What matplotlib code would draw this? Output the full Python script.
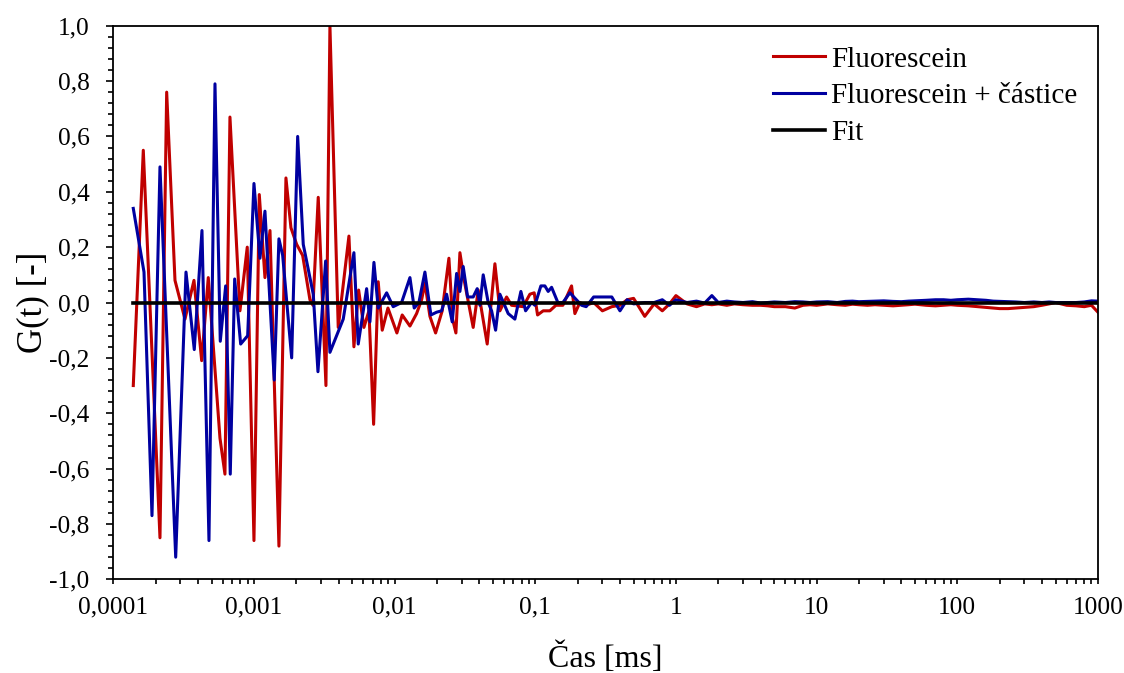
import matplotlib
matplotlib.use("Agg")
import matplotlib.pyplot as plt
from matplotlib.ticker import FixedLocator, MultipleLocator, LogLocator, NullFormatter

plt.rcParams['font.family'] = ['Liberation Serif', 'DejaVu Serif']

# Fluorescein (red) - time in ms, G(t)
red_t = [0.0001387, 0.0001634, 0.0002147, 0.0002396, 0.0002745, 0.0003233, 0.0003746,
         0.0004249, 0.0004734, 0.0005733, 0.000622, 0.000675, 0.000795, 0.000896, 0.001,
         0.001091, 0.001197, 0.0013, 0.001505, 0.001688, 0.001832, 0.002012, 0.002219,
         0.0025, 0.002627, 0.002864, 0.003249, 0.003468, 0.003973, 0.004733, 0.005136,
         0.005548, 0.006051, 0.006567, 0.007091, 0.007645, 0.008164, 0.008963, 0.01038,
         0.01132, 0.01285, 0.01433, 0.01556, 0.01642, 0.01782, 0.01956, 0.02179, 0.02432,
         0.02584, 0.02727, 0.02912, 0.03124, 0.03619, 0.03929, 0.04552, 0.05164, 0.05603,
         0.06252, 0.06784, 0.08204, 0.09154, 0.09822, 0.1038, 0.1138, 0.127, 0.1401,
         0.1571, 0.1811, 0.1912, 0.2075]
red_g = [-0.30, 0.55, -0.85, 0.76, 0.08, -0.06, 0.08,
         -0.21, 0.09, -0.49, -0.62, 0.67, -0.03, 0.20, -0.86,
         0.39, 0.09, 0.26, -0.88, 0.45, 0.27, 0.21, 0.17,
         0.01, -0.01, 0.38, -0.30, 1.0, -0.09, 0.24, -0.16,
         0.045, -0.09, -0.03, -0.44, 0.075, -0.10, -0.02, -0.11,
         -0.045, -0.085, -0.04, 0.01, 0.07, -0.05, -0.11, -0.03, 0.16,
         -0.06, -0.11, 0.18, 0.08, -0.09, 0.045, -0.15, 0.14, -0.03,
         0.02, -0.01, -0.015, 0.03, 0.035, -0.045, -0.03, -0.03, -0.01,
         -0.01, 0.06, -0.04, 0.0]

# Fluorescein + particles (blue)
blue_t = [0.0001387, 0.0001653, 0.0001884, 0.0002147, 0.0002777, 0.0003287, 0.0003764,
          0.000427, 0.0004788, 0.0005283, 0.0005761, 0.0006293, 0.0006785, 0.0007292,
          0.0008045, 0.000902, 0.001, 0.001103, 0.001197, 0.001394, 0.001505, 0.0016,
          0.001854, 0.002045, 0.002241, 0.00264, 0.002851, 0.003233, 0.003468, 0.004312,
          0.005136, 0.005512, 0.006324, 0.006675, 0.007127, 0.007645, 0.008776, 0.009772,
          0.01121, 0.01285, 0.01378, 0.01488, 0.01642, 0.01811, 0.01988, 0.02158, 0.02342,
          0.02567, 0.02759, 0.02912, 0.03073, 0.03302, 0.03619, 0.03865, 0.04039, 0.04264,
          0.04626, 0.04892, 0.05223, 0.05603, 0.06418, 0.07161, 0.07901, 0.08533, 0.09413,
          0.09936, 0.1096, 0.117, 0.1235, 0.1306, 0.1447, 0.1571, 0.1762, 0.2134]
blue_g = [0.34, 0.11, -0.77, 0.49, -0.92, 0.11, -0.17,
          0.26, -0.86, 0.79, -0.14, 0.06, -0.62, 0.085,
          -0.15, -0.12, 0.43, 0.16, 0.33, -0.28, 0.23, 0.17,
          -0.20, 0.60, 0.21, 0.03, -0.25, 0.15, -0.18, -0.06,
          0.18, -0.15, 0.05, -0.07, 0.145, -0.02, 0.035, -0.015,
          0.0, 0.09, -0.02, 0.0, 0.11, -0.045, -0.035, -0.03, 0.03,
          -0.07, 0.105, 0.04, 0.13, 0.02, 0.02, 0.05, -0.01, 0.10,
          0.0, -0.03, -0.10, 0.03, -0.04, -0.06, 0.04, -0.03, 0.0,
          -0.01, 0.06, 0.06, 0.04, 0.055, 0.0, 0.0, 0.035, -0.01]

# long-time tail, shared time grid
tail_t = [0.23, 0.26, 0.3, 0.35, 0.4, 0.45, 0.5, 0.6, 0.7, 0.8, 0.9, 1.0, 1.2, 1.4, 1.6,
          1.8, 2.0, 2.3, 2.6, 3, 3.5, 4, 4.5, 5, 6, 7, 8, 9, 10, 12, 14, 16, 18, 20, 23,
          26, 30, 35, 40, 45, 50, 60, 70, 80, 90, 100, 120, 140, 160, 180, 200, 230, 260,
          300, 350, 400, 450, 500, 600, 700, 800, 900, 1000]
red_tail = [-0.01, 0.0, -0.03, -0.015, -0.01, 0.01, 0.015, -0.05, -0.005, -0.03, -0.005,
            0.025, -0.005, -0.015, -0.005, -0.008, -0.005, -0.01, -0.005, -0.008, -0.01,
            -0.01, -0.012, -0.015, -0.015, -0.02, -0.01, -0.008, -0.01, -0.005, -0.008,
            -0.01, -0.006, -0.008, -0.01, -0.008, -0.01, -0.012, -0.01, -0.008, -0.006,
            -0.01, -0.012, -0.01, -0.008, -0.01, -0.012, -0.015, -0.018, -0.02, -0.022,
            -0.022, -0.02, -0.018, -0.015, -0.01, -0.005, 0.0, -0.01, -0.012, -0.015,
            -0.01, -0.035]
blue_tail = [-0.015, 0.02, 0.02, 0.02, -0.03, 0.01, -0.005, 0.0, 0.0, 0.01, -0.01, 0.01,
             0.0, 0.005, -0.002, 0.025, 0.0, 0.005, 0.002, 0.0, 0.003, -0.002, 0.0, 0.002,
             0.0, 0.003, 0.002, 0.0, 0.002, 0.003, 0.0, 0.004, 0.005, 0.003, 0.004, 0.005,
             0.006, 0.004, 0.003, 0.005, 0.006, 0.008, 0.01, 0.01, 0.008, 0.01, 0.012,
             0.01, 0.008, 0.005, 0.004, 0.003, 0.002, 0.0, 0.002, 0.0, 0.002, 0.0, 0.0,
             0.0, 0.002, 0.006, 0.005]

fit_t = [0.0001387, 1000]
fit_g = [0.0, 0.0]

x_ticks = [0.0001, 0.001, 0.01, 0.1, 1, 10, 100, 1000]
x_labels = ['0,0001', '0,001', '0,01', '0,1', '1', '10', '100', '1000']
y_ticks = [-1.0, -0.8, -0.6, -0.4, -0.2, 0.0, 0.2, 0.4, 0.6, 0.8, 1.0]
y_labels = ['-1,0', '-0,8', '-0,6', '-0,4', '-0,2', '0,0', '0,2', '0,4', '0,6', '0,8', '1,0']

fig = plt.figure(figsize=(11.24, 6.73), dpi=100)
ax = fig.add_axes([0.1008, 0.1392, 0.876, 0.8226])

ax.plot(red_t + tail_t, red_g + red_tail, color='#C00000', lw=2.2, label='Fluorescein')
ax.plot(blue_t + tail_t, blue_g + blue_tail, color='#0000A0', lw=2.2,
        label='Fluorescein + částice')
ax.plot(fit_t, fit_g, color='black', lw=2.6, label='Fit')

ax.set_xscale('log')
ax.set_xlim(0.0001, 1000)
ax.set_ylim(-1, 1)

ax.xaxis.set_major_locator(FixedLocator(x_ticks))
ax.set_xticklabels(x_labels)
ax.xaxis.set_minor_locator(LogLocator(base=10, subs=range(2, 10), numticks=20))
ax.xaxis.set_minor_formatter(NullFormatter())

ax.set_yticks(y_ticks)
ax.set_yticklabels(y_labels)
ax.yaxis.set_minor_locator(MultipleLocator(0.04))

ax.tick_params(axis='x', which='major', direction='out', length=3.5, width=1.2,
               labelsize=18.3, top=False, pad=9)
ax.tick_params(axis='x', which='minor', direction='out', length=3.5, width=1.2, top=False)
ax.tick_params(axis='y', which='major', direction='out', length=5, width=1.2,
               labelsize=18.3, right=False, pad=12)
ax.tick_params(axis='y', which='minor', direction='out', length=3.5, width=1.2, right=False)

for s in ax.spines.values():
    s.set_linewidth(1.3)

ax.set_xlabel('Čas [ms]', fontsize=23, labelpad=17)
ax.set_ylabel('G(t) [-]', fontsize=25, labelpad=0)

ax.legend(loc='upper right', frameon=False, fontsize=21, handlelength=1.8,
          handletextpad=0.2, labelspacing=0.35, borderaxespad=0.3)

fig.savefig('out.png', dpi=100)
